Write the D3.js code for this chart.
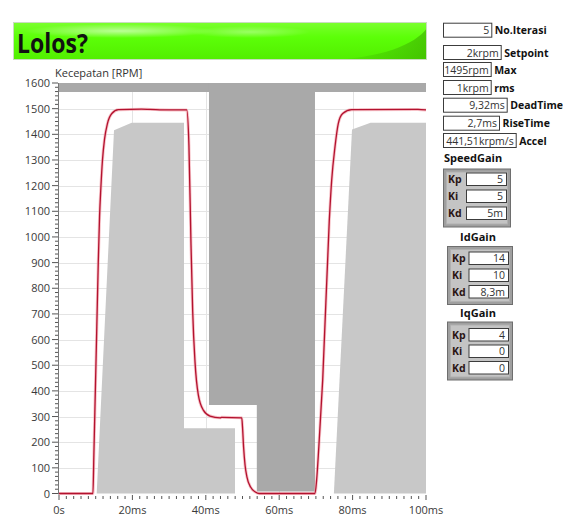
<!DOCTYPE html>
<html><head><meta charset="utf-8">
<script src="https://cdn.jsdelivr.net/npm/d3@7"></script>
<style>
html,body{margin:0;padding:0;background:#fff;}
svg{display:block;font-family:"Open Sans","Noto Sans",sans-serif;}
</style></head><body>
<svg id="chart" width="563" height="524"></svg>
<script>
// Measured speed response: time (ms) and speed (rpm)
const timeMs = [0, 9.25, 9.5, 9.9, 10.3, 10.7, 11.05, 11.4, 11.85, 12.4, 13.2, 14.4, 16.2, 22.5, 24.8, 30, 34.8, 35.4, 35.97, 36.43, 37.06, 37.96, 39.32, 41.14, 43.9, 44.3, 49.8, 50.0, 50.3, 50.7, 51.2, 52.2, 53.5, 54.5, 69.75, 70.2, 70.8, 71.85, 73.65, 74.3, 75.2, 76.1, 77.3, 79.75, 97.8, 100];
const speedRpm = [0, 0, 150, 400, 650, 900, 1080, 1190, 1300, 1380, 1442, 1481, 1496, 1498, 1497, 1495, 1495, 1358, 968, 708, 513, 384, 325, 302, 295, 297, 295, 260, 180, 110, 65, 25, 6, 0, 0, 53, 182, 442, 1065, 1221, 1351, 1442, 1481, 1496, 1497, 1495];

// Upper limit mask (speed must stay below)
const upperBandT = [0, 100, 100, 0];
const upperBandRpm = [1565, 1565, 1600, 1600];
const upperMaskT = [40.87, 40.87, 53.9, 53.9, 69.75, 69.75];
const upperMaskRpm = [1600, 345, 345, 8, 8, 1600];

// Lower limit masks (speed must stay above)
const lowerMask1T = [10.27, 14.99, 19.8, 34.06, 34.06, 47.96, 47.96];
const lowerMask1Rpm = [0, 1416, 1445, 1445, 254, 254, 0];
const lowerMask2T = [74.9, 79.84, 84.9, 100, 100];
const lowerMask2Rpm = [0, 1419, 1445, 1445, 0];

// Axis ticks
const yTickValues = d3.range(0, 1601, 100);
const xTickValues = [0, 20, 40, 60, 80, 100];
const xTickLabels = ["0s", "20ms", "40ms", "60ms", "80ms", "100ms"];

// Result indicators
const infoValues = ["5", "2krpm", "1495rpm", "1krpm", "9,32ms", "2,7ms", "441,51krpm/s"];
const infoNames = ["No.Iterasi", "Setpoint", "Max", "rms", "DeadTime", "RiseTime", "Accel"];

// Controller gains
const gainTerms = ["Kp", "Ki", "Kd"];
const speedGain = ["5", "5", "5m"];
const idGain = ["14", "10", "8,3m"];
const iqGain = ["4", "0", "0"];

const svg = d3.select("#chart");
const x = d3.scaleLinear().domain([0, 100]).range([59, 426]);
const y = d3.scaleLinear().domain([0, 1600]).range([493.5, 83]);

// ---- Title banner ----
const defs = svg.append("defs");
const bg = defs.append("linearGradient").attr("id", "bannerFill").attr("x1", 0).attr("y1", 0).attr("x2", 0).attr("y2", 1);
bg.append("stop").attr("offset", "0%").attr("stop-color", "#7cff30");
bg.append("stop").attr("offset", "40%").attr("stop-color", "#5cff08");
bg.append("stop").attr("offset", "100%").attr("stop-color", "#52ee00");
const shine = defs.append("radialGradient").attr("id", "bannerShine");
shine.append("stop").attr("offset", "0%").attr("stop-color", "#ffffff").attr("stop-opacity", 0.55);
shine.append("stop").attr("offset", "100%").attr("stop-color", "#ffffff").attr("stop-opacity", 0);
const dark = defs.append("linearGradient").attr("id", "bannerDark").attr("x1", 0).attr("y1", 0).attr("x2", 1).attr("y2", 0);
dark.append("stop").attr("offset", "0%").attr("stop-color", "#3aa800").attr("stop-opacity", 0);
dark.append("stop").attr("offset", "100%").attr("stop-color", "#3aa800").attr("stop-opacity", 0.6);
defs.append("clipPath").attr("id", "bannerClip").append("rect").attr("x", 13).attr("y", 22).attr("width", 414).attr("height", 38);

const banner = svg.append("g").attr("clip-path", "url(#bannerClip)");
banner.append("rect").attr("x", 13).attr("y", 22).attr("width", 414).attr("height", 38).attr("fill", "url(#bannerFill)");
banner.append("ellipse").attr("cx", 120).attr("cy", 31).attr("rx", 95).attr("ry", 7).attr("fill", "url(#bannerShine)");
banner.append("ellipse").attr("cx", 250).attr("cy", 32).attr("rx", 60).attr("ry", 6).attr("fill", "url(#bannerShine)").attr("opacity", 0.6);
banner.append("path").attr("d", "M330,60 C380,58 415,45 427,28 L427,60 Z").attr("fill", "url(#bannerDark)");
svg.append("rect").attr("x", 13.5).attr("y", 22.5).attr("width", 413).attr("height", 37).attr("fill", "none").attr("stroke", "#c9dcc0").attr("stroke-width", 1);
svg.append("text").attr("x", 17).attr("y", 53).attr("font-size", 26).attr("font-weight", 700).attr("fill", "#111")
  .attr("textLength", 71).attr("lengthAdjust", "spacingAndGlyphs").text("Lolos?");

// ---- Plot area ----
svg.append("rect").attr("x", x(0)).attr("y", y(1600)).attr("width", x(100) - x(0)).attr("height", y(0) - y(1600)).attr("fill", "#fff");

const grid = svg.append("g").attr("stroke", "#e4e4e4").attr("stroke-width", 1);
yTickValues.filter(v => v > 0 && v < 1600).forEach(v => {
  grid.append("line").attr("x1", x(0)).attr("x2", x(100)).attr("y1", Math.round(y(v)) + 0.5).attr("y2", Math.round(y(v)) + 0.5);
});
xTickValues.filter(v => v > 0 && v < 100).forEach(v => {
  grid.append("line").attr("y1", y(0)).attr("y2", y(1600)).attr("x1", Math.round(x(v)) + 0.5).attr("x2", Math.round(x(v)) + 0.5);
});

const area = (ts, rs) => d3.line().x(d => x(d[0])).y(d => y(d[1]))(ts.map((t, i) => [t, rs[i]])) + "Z";
svg.append("path").attr("d", area(lowerMask1T, lowerMask1Rpm)).attr("fill", "#c8c8c8");
svg.append("path").attr("d", area(lowerMask2T, lowerMask2Rpm)).attr("fill", "#c8c8c8");
svg.append("path").attr("d", area(upperBandT, upperBandRpm)).attr("fill", "#a9a9a9");
svg.append("path").attr("d", area(upperMaskT, upperMaskRpm)).attr("fill", "#a9a9a9");

// ---- Axes ----
const yAxis = svg.append("g").attr("font-size", 11).attr("fill", "#3a3a3a");
svg.append("line").attr("x1", 58.5).attr("x2", 58.5).attr("y1", y(1600)).attr("y2", y(0) + 1).attr("stroke", "#777");
const yMinor = [];
for (let v = 0; v < 1600; v += 100) for (let k = 1; k < 6; k++) yMinor.push(v + k * 100 / 6);
yMinor.forEach(v => svg.append("line").attr("x1", 55).attr("x2", 58).attr("y1", y(v)).attr("y2", y(v)).attr("stroke", "#555"));
yTickValues.forEach(v => {
  svg.append("line").attr("x1", 52).attr("x2", 58).attr("y1", y(v)).attr("y2", y(v)).attr("stroke", "#555");
  yAxis.append("text").attr("x", 50).attr("y", y(v) + 4).attr("text-anchor", "end").text(v);
});
svg.append("text").attr("x", 55).attr("y", 77).attr("font-size", 11).attr("fill", "#333").text("Kecepatan [RPM]");

const xMinor = d3.range(0, 100, 2).filter(v => v % 20 !== 0);
xMinor.forEach(v => svg.append("line").attr("x1", x(v)).attr("x2", x(v)).attr("y1", 496).attr("y2", 499).attr("stroke", "#555"));
xTickValues.forEach((v, i) => {
  svg.append("line").attr("x1", x(v)).attr("x2", x(v)).attr("y1", 495).attr("y2", 500).attr("stroke", "#555");
  svg.append("text").attr("x", x(v)).attr("y", 514).attr("text-anchor", "middle").attr("font-size", 11).attr("fill", "#3a3a3a").text(xTickLabels[i]);
});

// ---- Speed trace ----
const pts = timeMs.map((t, i) => [t, speedRpm[i]]);
const line = d3.line().x(d => x(d[0])).y(d => y(d[1])).curve(d3.curveMonotoneX);
svg.append("path").attr("d", line(pts)).attr("fill", "none").attr("stroke", "#f29aa4").attr("stroke-width", 3).attr("opacity", 0.6);
svg.append("path").attr("d", line(pts)).attr("fill", "none").attr("stroke", "#b3122f").attr("stroke-width", 1.3);

// ---- Result indicators ----
const infoTop = [22.7, 45, 62, 80, 97.7, 115.7, 133];
const infoRight = [492.3, 501.7, 491.7, 491.7, 507.7, 500, 516.7];
infoValues.forEach((v, i) => {
  const g = svg.append("g");
  g.append("rect").attr("x", 443.5).attr("y", infoTop[i] + 0.5).attr("width", infoRight[i] - 444).attr("height", 14)
    .attr("fill", "#fff").attr("stroke", "#3c3c3c");
  g.append("text").attr("x", infoRight[i] - 3).attr("y", infoTop[i] + 11.5).attr("text-anchor", "end")
    .attr("font-size", 10.5).attr("fill", "#333").text(v);
  g.append("text").attr("x", infoRight[i] + 2.5).attr("y", infoTop[i] + 11.5)
    .attr("font-size", 10.5).attr("font-weight", 700).attr("fill", "#111").text(infoNames[i]);
});

// ---- Gain clusters ----
function gainCluster(title, values, titleX, anchor, titleY, bx, by, bw, boxX, rowTops) {
  svg.append("text").attr("x", titleX).attr("y", titleY).attr("text-anchor", anchor)
    .attr("font-size", 11).attr("font-weight", 700).attr("fill", "#111").text(title);
  svg.append("rect").attr("x", bx + 0.5).attr("y", by + 0.5).attr("width", bw).attr("height", 58)
    .attr("fill", "#9f9f9f").attr("stroke", "#6e6e6e");
  svg.append("rect").attr("x", bx + 3.5).attr("y", by + 3.5).attr("width", bw - 6).attr("height", 52)
    .attr("fill", "#c4c4c4").attr("stroke", "#b0b0b0");
  values.forEach((v, i) => {
    svg.append("text").attr("x", bx + 5).attr("y", rowTops[i] + 10.5)
      .attr("font-size", 10.5).attr("font-weight", 700).attr("fill", "#2a1414").text(gainTerms[i]);
    svg.append("rect").attr("x", boxX + 0.5).attr("y", rowTops[i] + 0.5).attr("width", bx + bw - 4 - boxX).attr("height", 12.5)
      .attr("fill", "#fff").attr("stroke", "#3c3c3c");
    svg.append("text").attr("x", bx + bw - 7).attr("y", rowTops[i] + 10.5).attr("text-anchor", "end")
      .attr("font-size", 10.5).attr("fill", "#333").text(v);
  });
}
gainCluster("SpeedGain", speedGain, 444, "start", 162, 443, 168.5, 67, 466, [172.5, 189.5, 206.5]);
gainCluster("IdGain", idGain, 478, "middle", 241, 447, 246, 65, 468.5, [251.5, 268.5, 285]);
gainCluster("IqGain", iqGain, 478, "middle", 317, 447, 321.5, 65, 468.5, [328, 344.5, 361]);
</script>
</body></html>
